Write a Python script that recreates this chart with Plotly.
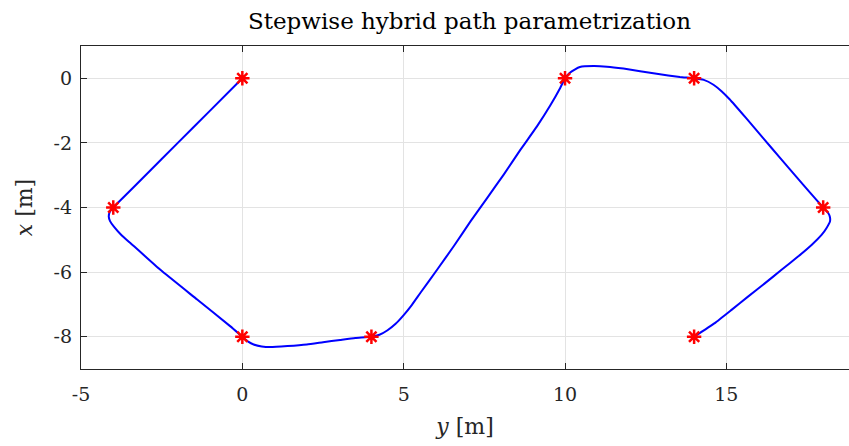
import plotly.graph_objects as go

# Waypoints (y = horizontal, x = vertical)
wp_y = [0, -4, 0, 4, 10, 14, 18, 14]
wp_x = [0, -4, -8, -8, 0, 0, -4, -8]

# Path
path_y = [0, -1, -2, -3, -3.8, -4, -4.1, -4.14, -4.1, -3.98, -3.75, -3.47, -2.54, -1.40,
          -0.37, 0, 0.18, 0.35, 0.6, 0.87, 1.4, 2.0, 2.5, 3.03, 3.5, 4.0, 4.25, 4.5, 4.75,
          5.0, 5.25, 5.52, 6.04, 6.55, 7.07, 7.59, 8.10, 8.62, 9.13, 9.55, 9.85, 10, 10.15,
          10.3, 10.46, 10.88, 11.3, 11.81, 12.84, 13.56, 14, 14.3, 14.6, 14.85, 15.1, 15.6,
          16.14, 16.65, 17.17, 17.6, 18.0, 18.16, 18.21, 18.21, 18.10, 17.95, 17.64, 17.22,
          16.71, 16.19, 15.67, 15.16, 14.64, 14]
path_x = [0, -1, -2, -3, -3.8, -4, -4.12, -4.28, -4.42, -4.59, -4.85, -5.10, -5.93, -6.85,
          -7.68, -8, -8.15, -8.24, -8.30, -8.32, -8.29, -8.24, -8.17, -8.10, -8.04, -8.0,
          -7.94, -7.8, -7.6, -7.33, -7.02, -6.64, -5.92, -5.20, -4.43, -3.70, -2.98, -2.21,
          -1.49, -0.83, -0.30, 0, 0.17, 0.27, 0.35, 0.38, 0.36, 0.30, 0.14, 0.04, 0, -0.05,
          -0.2, -0.4, -0.65, -1.22, -1.85, -2.45, -3.05, -3.55, -4.0, -4.18, -4.30, -4.43,
          -4.64, -4.85, -5.16, -5.52, -5.93, -6.35, -6.76, -7.17, -7.58, -8]

x_ticks = [-5, 0, 5, 10, 15]
y_ticks = [0, -2, -4, -6, -8]

FONT = "DejaVu Serif"
AX = "#262626"

fig = go.Figure()
fig.add_trace(go.Scatter(x=path_y, y=path_x, mode="lines",
                         line=dict(color="#0000ff", width=2, shape="spline", smoothing=0.4),
                         hoverinfo="skip", showlegend=False))
fig.add_trace(go.Scatter(x=wp_y, y=wp_x, mode="markers",
                         marker=dict(symbol="asterisk-open", size=12, color="#ff0000",
                                     line=dict(color="#ff0000", width=2.5)),
                         showlegend=False))

fig.update_layout(
    width=849, height=446,
    margin=dict(l=81, r=0, t=46, b=77),
    paper_bgcolor="white", plot_bgcolor="white",
    font=dict(family=FONT, color=AX, size=19),
    title=dict(text="Stepwise hybrid path parametrization", x=0.553, xanchor="center",
               y=0.953, yanchor="middle", font=dict(family=FONT, size=23, color="black")),
    xaxis=dict(range=[-5, 18.8], tickvals=x_ticks, ticktext=[str(v) for v in x_ticks],
               showgrid=True, gridcolor="#e3e3e3", gridwidth=1, zeroline=False,
               showline=True, linecolor=AX, linewidth=1.3, mirror="ticks",
               ticks="inside", ticklen=6, tickcolor=AX, tickwidth=1.3,
               ticklabelstandoff=8,
               title=dict(text="<i>y</i> [m]", font=dict(size=22, color=AX), standoff=14),
               tickfont=dict(size=19, color=AX)),
    yaxis=dict(range=[-9, 1], tickvals=y_ticks, ticktext=[str(v) for v in y_ticks],
               showgrid=True, gridcolor="#e3e3e3", gridwidth=1, zeroline=False,
               showline=True, linecolor=AX, linewidth=1.3, mirror=False,
               ticks="inside", ticklen=6, tickcolor=AX, tickwidth=1.3,
               ticklabelstandoff=4,
               title=dict(text="<i>x</i> [m]", font=dict(size=22, color=AX), standoff=14),
               tickfont=dict(size=19, color=AX)),
)

fig.write_html("out.html")
